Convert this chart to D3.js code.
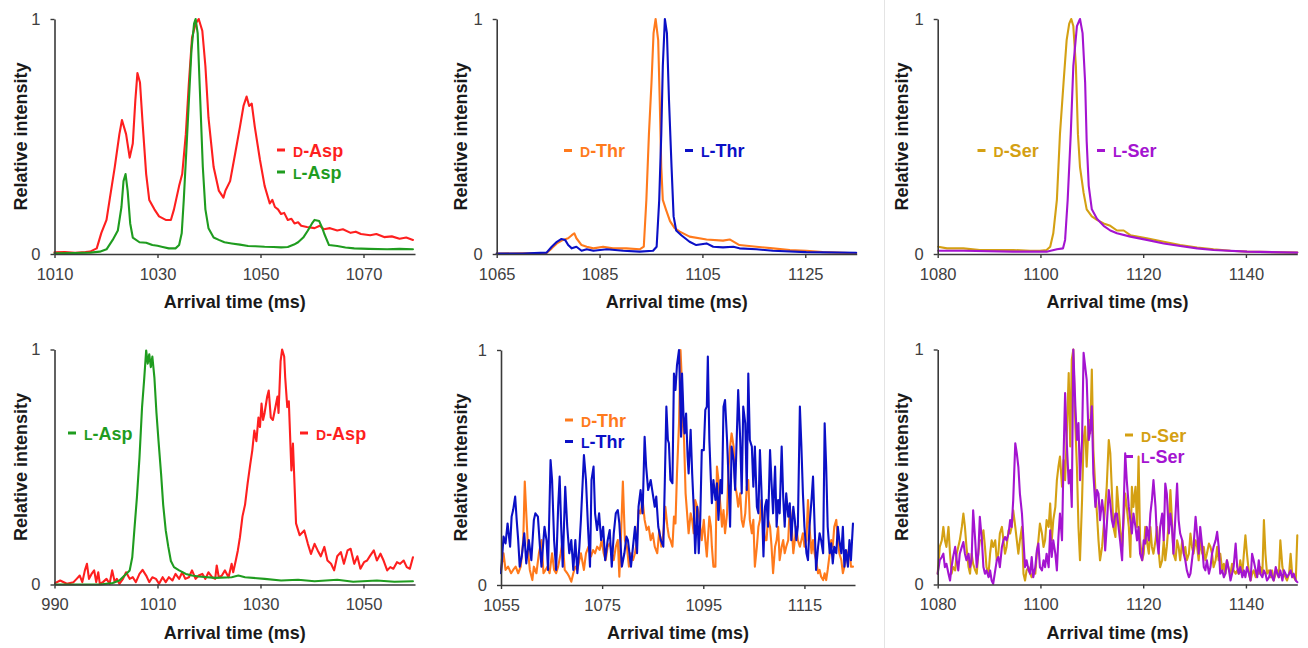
<!DOCTYPE html>
<html><head><meta charset="utf-8">
<script src="https://cdn.jsdelivr.net/npm/d3@7"></script>
<style>
html,body{margin:0;padding:0;background:#fff;}
svg{display:block;font-family:"Liberation Sans",Arial,sans-serif;}
</style></head>
<body>
<svg id="chart" width="1308" height="648"></svg>
<script>
// ---------------- DATA ----------------
// Top row: normal arrival-time distributions
const topAspD = [[1010.0,0.007],[1012,0.008],[1014,0.005],[1016,0.008],[1016.9,0.01],[1018.2,0.024],[1019.1,0.09],[1020.1,0.145],[1020.7,0.23],[1021.7,0.37],[1022.6,0.51],[1023.1,0.57],[1023.9,0.51],[1024.6,0.41],[1025.2,0.47],[1025.7,0.655],[1026.1,0.77],[1026.6,0.73],[1027.1,0.56],[1027.8,0.34],[1028.4,0.23],[1029.4,0.19],[1030.3,0.16],[1031.6,0.145],[1032.6,0.145],[1033.2,0.19],[1034.2,0.29],[1034.8,0.34],[1035.5,0.51],[1036.1,0.73],[1036.7,0.92],[1037.4,0.98],[1038.0,1.0],[1038.7,0.95],[1039.3,0.80],[1039.9,0.58],[1040.9,0.37],[1041.9,0.27],[1042.8,0.24],[1043.2,0.27],[1044.1,0.31],[1045.1,0.43],[1046.0,0.54],[1046.7,0.63],[1047.3,0.67],[1047.8,0.63],[1048.3,0.64],[1048.9,0.54],[1049.9,0.40],[1050.8,0.29],[1051.8,0.215],[1052.3,0.23],[1052.8,0.20],[1053.4,0.19],[1054.0,0.17],[1054.6,0.175],[1055.3,0.145],[1056.0,0.15],[1056.6,0.13],[1057.3,0.135],[1057.9,0.12],[1059.0,0.115],[1060.5,0.11],[1061.5,0.12],[1062.3,0.105],[1063.5,0.11],[1064.9,0.10],[1066.0,0.105],[1067.5,0.09],[1068.5,0.095],[1069.5,0.085],[1071.3,0.08],[1072.5,0.085],[1074.0,0.072],[1075.5,0.075],[1077.0,0.065],[1078.3,0.07],[1079.6,0.06]];
const topAspL = [[1010,0.003],[1014,0.004],[1017,0.006],[1018.8,0.01],[1020.1,0.02],[1021.3,0.06],[1022.3,0.10],[1023.0,0.20],[1023.4,0.31],[1023.8,0.34],[1024.2,0.27],[1024.7,0.13],[1025.2,0.07],[1026.5,0.05],[1027.8,0.048],[1029.0,0.038],[1030,0.035],[1031.0,0.03],[1032.2,0.024],[1033.5,0.024],[1034.2,0.038],[1034.7,0.088],[1035.1,0.23],[1035.6,0.44],[1036.1,0.655],[1036.6,0.87],[1037.1,0.98],[1037.4,1.0],[1037.8,0.94],[1038.3,0.655],[1038.8,0.37],[1039.3,0.19],[1039.9,0.11],[1040.9,0.07],[1041.9,0.06],[1043,0.05],[1044.4,0.045],[1046,0.04],[1047.6,0.034],[1049,0.033],[1050.8,0.031],[1052.5,0.03],[1054.0,0.028],[1055.3,0.03],[1056.5,0.04],[1057.3,0.05],[1058.3,0.07],[1059.2,0.10],[1060.0,0.13],[1060.5,0.145],[1061.4,0.14],[1062.0,0.11],[1062.4,0.085],[1063.3,0.038],[1064.9,0.034],[1066.5,0.028],[1068.2,0.024],[1071,0.022],[1074.6,0.02],[1077,0.022],[1079.6,0.02]];
const topThrD = [[1065,0.002],[1070,0.003],[1074.7,0.004],[1075.7,0.024],[1076.7,0.045],[1077.9,0.06],[1078.9,0.067],[1079.6,0.08],[1080.1,0.088],[1080.5,0.067],[1081.5,0.038],[1082.5,0.031],[1083.8,0.024],[1085.7,0.031],[1087.6,0.024],[1090.2,0.024],[1092.8,0.02],[1093.6,0.031],[1094.1,0.23],[1094.6,0.51],[1095.1,0.73],[1095.5,0.94],[1095.9,1.0],[1096.4,0.91],[1096.7,0.655],[1097.0,0.37],[1097.3,0.23],[1097.9,0.19],[1098.7,0.14],[1099.6,0.11],[1100.6,0.095],[1102.5,0.074],[1105.8,0.062],[1109.0,0.057],[1110.3,0.062],[1112.2,0.038],[1115.5,0.031],[1118.7,0.024],[1122.0,0.017],[1125.2,0.014],[1128.4,0.008],[1134.9,0.003]];
const topThrL = [[1065,0.002],[1070,0.002],[1074.7,0.006],[1075.7,0.031],[1076.7,0.052],[1077.6,0.064],[1078.3,0.06],[1078.9,0.038],[1079.6,0.024],[1080.5,0.031],[1081.5,0.014],[1082.5,0.02],[1083.8,0.014],[1086.4,0.02],[1089.6,0.014],[1092.8,0.01],[1095.4,0.014],[1096.1,0.031],[1096.6,0.23],[1097.0,0.51],[1097.3,0.80],[1097.7,1.0],[1098.1,0.94],[1098.5,0.655],[1099.0,0.37],[1099.4,0.16],[1099.9,0.10],[1100.9,0.08],[1102.5,0.052],[1103.8,0.038],[1105.8,0.045],[1107.1,0.031],[1109.0,0.028],[1111.0,0.031],[1112.2,0.024],[1115.5,0.02],[1118.7,0.014],[1125.2,0.008],[1134.9,0.005]];
const topSerD = [[1080.1,0.031],[1081.8,0.024],[1085.0,0.024],[1088.2,0.017],[1094.7,0.017],[1098.0,0.014],[1099.9,0.014],[1101.2,0.017],[1101.9,0.031],[1102.5,0.088],[1103.2,0.23],[1103.8,0.51],[1104.5,0.73],[1105.1,0.91],[1105.6,0.98],[1106.0,1.0],[1106.4,0.97],[1106.9,0.80],[1107.3,0.51],[1107.7,0.37],[1108.4,0.26],[1109.0,0.19],[1110.0,0.16],[1111.0,0.145],[1112.3,0.13],[1113.6,0.12],[1114.9,0.10],[1116.2,0.10],[1117.5,0.08],[1120.7,0.067],[1124.0,0.052],[1127.2,0.038],[1130.5,0.028],[1133.7,0.02],[1137.0,0.014],[1140.2,0.01],[1150.0,0.006]];
const topSerL = [[1080.1,0.014],[1085.0,0.014],[1094.7,0.01],[1101.2,0.01],[1103.2,0.02],[1104.4,0.024],[1104.8,0.06],[1105.3,0.23],[1105.9,0.51],[1106.4,0.80],[1107.1,0.97],[1107.7,1.0],[1108.2,0.94],[1108.7,0.73],[1109.0,0.48],[1109.4,0.29],[1110.0,0.19],[1111.0,0.15],[1112.3,0.12],[1113.6,0.10],[1114.9,0.088],[1117.5,0.074],[1120.7,0.06],[1124.0,0.045],[1127.2,0.034],[1130.5,0.024],[1133.7,0.017],[1140.2,0.01],[1150.0,0.006]];

// Bottom row
const botAspL = [[990.1,0.0],[995.6,0.0],[998.8,0.0],[1001.3,0.006],[1002.6,0.017],[1003.6,0.038],[1004.6,0.06],[1005.1,0.116],[1005.5,0.23],[1006.0,0.37],[1006.5,0.54],[1007.0,0.755],[1007.4,0.87],[1007.8,0.996],[1008.1,0.94],[1008.4,0.98],[1008.7,0.925],[1009.0,0.97],[1009.4,0.88],[1009.8,0.73],[1010.2,0.61],[1010.7,0.47],[1011.1,0.34],[1011.6,0.23],[1012.1,0.16],[1012.6,0.10],[1013.2,0.074],[1014.2,0.06],[1015.5,0.045],[1016.7,0.038],[1018.0,0.034],[1021.2,0.028],[1024.4,0.031],[1025.7,0.038],[1027.0,0.031],[1030.8,0.024],[1034.0,0.017],[1037.3,0.02],[1040.5,0.014],[1044.9,0.02],[1048,0.012],[1052.6,0.017],[1056,0.012],[1059.6,0.014]];
const botAspD = [[990.1,0.006],[991.1,0.017],[992.4,0.003],[993.7,0.01],[994.3,0.024],[994.9,0.038],[995.4,0.01],[995.9,0.06],[996.3,0.088],[996.7,0.024],[997.2,0.045],[997.7,0.06],[998.1,0.01],[998.5,0.052],[998.8,0.003],[999.4,0.01],[1000.1,0.024],[1000.7,0.003],[1001.2,0.06],[1001.7,0.01],[1002.1,0.024],[1002.6,0.003],[1003.3,0.024],[1003.9,0.052],[1004.6,0.024],[1005.2,0.031],[1005.8,0.01],[1006.5,0.045],[1007.1,0.062],[1007.8,0.038],[1008.4,0.01],[1009.0,0.031],[1009.7,0.024],[1010.3,0.003],[1011.0,0.031],[1011.6,0.01],[1012.2,0.031],[1012.9,0.017],[1013.5,0.045],[1014.2,0.024],[1014.8,0.052],[1015.4,0.024],[1016.1,0.031],[1016.7,0.06],[1017.4,0.024],[1018.0,0.038],[1018.7,0.045],[1019.3,0.024],[1019.9,0.052],[1020.6,0.031],[1021.2,0.024],[1021.5,0.081],[1021.9,0.031],[1022.5,0.038],[1023.1,0.06],[1023.8,0.031],[1024.4,0.088],[1024.7,0.052],[1025.2,0.102],[1025.6,0.145],[1026.0,0.20],[1026.5,0.29],[1027.0,0.34],[1027.5,0.43],[1028.0,0.51],[1028.4,0.57],[1028.8,0.655],[1029.2,0.61],[1029.6,0.71],[1029.9,0.67],[1030.2,0.77],[1030.5,0.70],[1030.8,0.73],[1031.3,0.80],[1031.6,0.825],[1032.0,0.71],[1032.4,0.70],[1032.9,0.755],[1033.3,0.80],[1033.5,0.73],[1033.9,0.95],[1034.2,1.0],[1034.6,0.97],[1034.8,0.88],[1035.2,0.755],[1035.5,0.78],[1036.0,0.485],[1036.3,0.60],[1036.9,0.26],[1037.6,0.21],[1038.5,0.23],[1039.2,0.173],[1039.8,0.13],[1040.5,0.173],[1041.1,0.145],[1041.7,0.12],[1042.4,0.16],[1043.0,0.102],[1043.7,0.088],[1044.3,0.06],[1044.9,0.12],[1045.6,0.138],[1046.2,0.088],[1046.9,0.145],[1047.5,0.152],[1048.2,0.088],[1048.8,0.12],[1049.4,0.067],[1050.1,0.095],[1050.7,0.102],[1051.3,0.123],[1052.0,0.145],[1052.6,0.102],[1053.3,0.131],[1053.9,0.102],[1054.6,0.06],[1055.2,0.074],[1055.8,0.067],[1056.5,0.095],[1057.1,0.088],[1057.8,0.102],[1058.4,0.074],[1059.0,0.067],[1059.6,0.116]];
const botThrD = [[1055.0,0.064],[1055.5,0.135],[1055.9,0.064],[1056.4,0.078],[1057.0,0.05],[1057.4,0.064],[1057.9,0.078],[1058.4,0.05],[1058.9,0.078],[1059.4,0.191],[1059.7,0.44],[1060.0,0.305],[1060.4,0.135],[1060.7,0.064],[1061.2,0.021],[1061.5,0.078],[1062.0,0.05],[1062.5,0.135],[1063.0,0.191],[1063.4,0.05],[1063.8,0.064],[1064.2,0.078],[1064.6,0.05],[1065.1,0.135],[1065.5,0.064],[1065.9,0.05],[1066.3,0.078],[1066.8,0.135],[1067.2,0.191],[1067.6,0.064],[1068.1,0.05],[1068.5,0.035],[1068.9,0.014],[1069.3,0.05],[1069.7,0.078],[1070.1,0.064],[1070.5,0.106],[1070.8,0.135],[1071.4,0.064],[1071.8,0.135],[1072.3,0.163],[1072.8,0.121],[1073.2,0.149],[1073.6,0.135],[1074.0,0.163],[1074.5,0.149],[1074.9,0.191],[1075.3,0.135],[1075.7,0.106],[1076.1,0.163],[1076.5,0.177],[1076.9,0.135],[1077.3,0.106],[1077.7,0.163],[1078.1,0.191],[1078.4,0.035],[1078.7,0.191],[1079.1,0.44],[1079.5,0.191],[1079.9,0.163],[1080.3,0.078],[1080.7,0.135],[1081.1,0.106],[1081.5,0.135],[1081.9,0.191],[1082.2,0.319],[1082.6,0.305],[1083.0,0.362],[1083.4,0.277],[1083.8,0.234],[1084.2,0.248],[1084.6,0.191],[1085.0,0.22],[1085.4,0.163],[1085.9,0.135],[1086.3,0.234],[1086.7,0.163],[1087.1,0.22],[1087.5,0.333],[1087.9,0.248],[1088.2,0.206],[1088.5,0.191],[1088.9,0.163],[1089.2,0.291],[1089.5,0.262],[1089.8,0.475],[1090.2,0.688],[1090.5,1.0],[1090.7,0.90],[1091.0,0.674],[1091.2,0.617],[1091.5,0.39],[1091.8,0.305],[1092.1,0.22],[1092.5,0.305],[1092.8,0.277],[1093.1,0.22],[1093.4,0.362],[1093.8,0.333],[1094.1,0.305],[1094.4,0.248],[1094.7,0.191],[1095.1,0.277],[1095.4,0.191],[1095.7,0.121],[1095.9,0.191],[1096.2,0.291],[1096.5,0.248],[1096.7,0.163],[1097.0,0.078],[1097.4,0.078],[1097.7,0.504],[1098.0,0.447],[1098.4,0.333],[1098.7,0.248],[1099.0,0.319],[1099.3,0.22],[1099.7,0.305],[1100.0,0.504],[1100.3,0.589],[1100.6,0.645],[1101.0,0.589],[1101.3,0.418],[1101.6,0.39],[1101.9,0.333],[1102.3,0.39],[1102.6,0.277],[1102.9,0.248],[1103.3,0.305],[1103.6,0.418],[1103.9,0.447],[1104.2,0.277],[1104.6,0.22],[1104.9,0.277],[1105.2,0.078],[1105.6,0.163],[1105.9,0.248],[1106.2,0.277],[1106.5,0.362],[1106.9,0.248],[1107.2,0.191],[1107.5,0.191],[1107.8,0.277],[1108.2,0.248],[1108.5,0.163],[1108.8,0.05],[1109.2,0.163],[1109.5,0.191],[1109.8,0.248],[1110.1,0.106],[1110.5,0.163],[1110.8,0.191],[1111.1,0.135],[1111.4,0.163],[1111.8,0.191],[1112.1,0.333],[1112.4,0.277],[1112.8,0.135],[1113.1,0.191],[1113.4,0.248],[1113.7,0.191],[1114.1,0.163],[1114.4,0.191],[1114.7,0.22],[1115.0,0.163],[1115.4,0.191],[1115.7,0.362],[1116.0,0.248],[1116.4,0.135],[1116.7,0.191],[1117.0,0.135],[1117.3,0.106],[1117.7,0.05],[1118.0,0.064],[1118.3,0.035],[1118.7,0.021],[1119.0,0.05],[1119.3,0.021],[1119.6,0.064],[1120.0,0.135],[1120.3,0.191],[1120.6,0.163],[1120.9,0.248],[1121.3,0.277],[1121.6,0.191],[1121.9,0.135],[1122.3,0.106],[1122.6,0.05],[1122.9,0.078],[1123.2,0.106],[1123.6,0.135],[1123.9,0.163],[1124.2,0.078],[1124.6,0.078]];
const botThrL = [[1055.0,0.05],[1055.5,0.206],[1055.9,0.177],[1056.3,0.262],[1056.8,0.163],[1057.1,0.291],[1057.4,0.319],[1057.8,0.376],[1058.1,0.277],[1058.4,0.191],[1058.7,0.078],[1059.1,0.121],[1059.6,0.22],[1060.0,0.092],[1060.5,0.191],[1061.0,0.106],[1061.5,0.277],[1061.8,0.305],[1062.3,0.291],[1062.7,0.163],[1063.0,0.078],[1063.3,0.163],[1063.6,0.248],[1064.0,0.191],[1064.3,0.064],[1064.8,0.532],[1065.1,0.447],[1065.5,0.191],[1065.9,0.064],[1066.3,0.333],[1066.6,0.461],[1066.9,0.248],[1067.2,0.078],[1067.7,0.418],[1068.1,0.248],[1068.5,0.135],[1068.9,0.191],[1069.3,0.064],[1069.7,0.191],[1070.1,0.05],[1070.5,0.163],[1070.8,0.277],[1071.4,0.553],[1071.8,0.447],[1072.2,0.248],[1072.6,0.078],[1072.9,0.447],[1073.3,0.504],[1073.6,0.305],[1074.0,0.234],[1074.4,0.305],[1074.8,0.191],[1075.2,0.248],[1075.6,0.106],[1076.1,0.191],[1076.5,0.234],[1076.9,0.078],[1077.3,0.22],[1077.7,0.305],[1078.1,0.319],[1078.4,0.262],[1078.9,0.078],[1079.4,0.135],[1079.8,0.206],[1080.1,0.191],[1080.7,0.078],[1081.1,0.163],[1081.5,0.248],[1081.9,0.135],[1082.2,0.333],[1082.6,0.404],[1083.0,0.305],[1083.4,0.631],[1083.7,0.504],[1084.1,0.404],[1084.6,0.447],[1084.9,0.404],[1085.4,0.333],[1085.7,0.376],[1086.1,0.248],[1086.6,0.191],[1087.1,0.163],[1087.4,0.447],[1087.7,0.759],[1088.0,0.617],[1088.2,0.603],[1088.5,0.447],[1088.9,0.433],[1089.2,0.90],[1089.5,0.83],[1089.8,0.936],[1090.2,1.0],[1090.4,0.83],[1090.6,0.631],[1090.8,0.90],[1091.1,0.716],[1091.3,0.645],[1091.6,0.73],[1091.9,0.546],[1092.1,0.475],[1092.5,0.66],[1092.8,0.475],[1093.1,0.333],[1093.4,0.135],[1093.8,0.333],[1094.1,0.135],[1094.4,0.277],[1094.7,0.574],[1095.1,0.574],[1095.4,0.745],[1095.7,0.759],[1095.9,0.972],[1096.2,0.617],[1096.5,0.447],[1096.7,0.348],[1097.0,0.447],[1097.4,0.362],[1097.7,0.433],[1098.0,0.277],[1098.4,0.447],[1098.7,0.39],[1099.0,0.759],[1099.3,0.787],[1099.7,0.617],[1100.0,0.447],[1100.3,0.248],[1100.6,0.589],[1101.0,0.532],[1101.3,0.404],[1101.6,0.617],[1101.9,0.83],[1102.3,0.617],[1102.6,0.39],[1102.9,0.759],[1103.3,0.688],[1103.6,0.404],[1103.9,0.90],[1104.2,0.617],[1104.6,0.589],[1104.9,0.418],[1105.2,0.589],[1105.6,0.333],[1105.9,0.305],[1106.2,0.574],[1106.5,0.404],[1106.9,0.121],[1107.2,0.333],[1107.5,0.362],[1107.8,0.248],[1108.2,0.574],[1108.5,0.433],[1108.8,0.305],[1109.2,0.504],[1109.5,0.248],[1109.8,0.362],[1110.1,0.305],[1110.5,0.589],[1110.8,0.376],[1111.1,0.248],[1111.4,0.39],[1111.8,0.291],[1112.1,0.348],[1112.4,0.191],[1112.8,0.333],[1113.1,0.277],[1113.4,0.191],[1113.7,0.248],[1114.1,0.759],[1114.4,0.589],[1114.7,0.39],[1115.0,0.248],[1115.4,0.135],[1115.7,0.106],[1116.0,0.248],[1116.4,0.362],[1116.7,0.461],[1117.0,0.262],[1117.3,0.064],[1117.7,0.163],[1118.0,0.22],[1118.3,0.191],[1118.7,0.135],[1119.0,0.688],[1119.3,0.504],[1119.6,0.248],[1120.0,0.135],[1120.3,0.177],[1120.6,0.092],[1120.9,0.163],[1121.3,0.135],[1121.6,0.248],[1121.9,0.191],[1122.3,0.135],[1122.6,0.248],[1122.9,0.078],[1123.2,0.149],[1123.6,0.078],[1123.9,0.191],[1124.2,0.106],[1124.6,0.262]];
const botSerD = [[1080.0,0.046],[1080.4,0.16],[1080.8,0.188],[1081.1,0.245],[1081.4,0.188],[1081.7,0.16],[1082.1,0.245],[1082.4,0.131],[1082.7,0.046],[1083.0,0.074],[1083.4,0.06],[1083.7,0.131],[1084.0,0.16],[1084.3,0.188],[1084.7,0.245],[1085.0,0.302],[1085.3,0.245],[1085.6,0.16],[1086.0,0.074],[1086.3,0.046],[1086.6,0.131],[1086.9,0.088],[1087.3,0.06],[1087.6,0.046],[1087.9,0.131],[1088.2,0.188],[1088.6,0.188],[1088.9,0.231],[1089.2,0.16],[1089.5,0.074],[1089.9,0.046],[1090.2,0.131],[1090.5,0.188],[1090.8,0.16],[1091.2,0.188],[1091.5,0.103],[1091.8,0.131],[1092.1,0.217],[1092.5,0.245],[1092.8,0.188],[1093.1,0.131],[1093.4,0.16],[1093.8,0.231],[1094.1,0.217],[1094.4,0.245],[1094.7,0.316],[1095.1,0.245],[1095.4,0.188],[1095.7,0.131],[1096.0,0.188],[1096.4,0.245],[1096.7,0.046],[1097.0,0.017],[1097.3,0.06],[1097.7,0.074],[1098.0,0.046],[1098.3,0.031],[1098.6,0.06],[1099.0,0.046],[1099.3,0.131],[1099.6,0.188],[1099.9,0.259],[1100.3,0.217],[1100.6,0.16],[1100.9,0.188],[1101.2,0.274],[1101.6,0.245],[1101.9,0.345],[1102.2,0.188],[1102.5,0.274],[1102.9,0.33],[1103.2,0.444],[1103.5,0.501],[1103.8,0.544],[1104.2,0.416],[1104.5,0.53],[1104.8,0.444],[1105.1,0.615],[1105.5,0.90],[1105.8,0.587],[1106.1,0.957],[1106.4,1.0],[1106.8,0.672],[1107.1,0.501],[1107.4,0.245],[1107.7,0.103],[1108.1,0.359],[1108.4,0.615],[1108.7,0.672],[1109.0,0.501],[1109.4,0.701],[1109.7,0.644],[1110.0,0.915],[1110.3,0.573],[1110.7,0.402],[1111.0,0.302],[1111.3,0.188],[1111.6,0.103],[1112.0,0.16],[1112.3,0.245],[1112.6,0.33],[1112.9,0.416],[1113.3,0.615],[1113.6,0.558],[1113.9,0.402],[1114.2,0.245],[1114.6,0.202],[1114.9,0.416],[1115.2,0.33],[1115.5,0.245],[1115.9,0.16],[1116.2,0.274],[1116.5,0.387],[1116.8,0.33],[1117.2,0.245],[1117.5,0.117],[1117.8,0.416],[1118.1,0.33],[1118.5,0.416],[1118.8,0.245],[1119.1,0.544],[1119.4,0.188],[1119.8,0.103],[1120.1,0.131],[1120.4,0.245],[1120.7,0.188],[1121.1,0.131],[1121.4,0.245],[1121.7,0.16],[1122.0,0.131],[1122.4,0.188],[1122.7,0.245],[1123.0,0.145],[1123.3,0.074],[1123.7,0.103],[1124.0,0.188],[1124.3,0.103],[1124.6,0.16],[1125.0,0.274],[1125.3,0.402],[1125.6,0.274],[1125.9,0.131],[1126.3,0.103],[1126.6,0.188],[1126.9,0.16],[1127.2,0.103],[1127.6,0.188],[1127.9,0.131],[1128.2,0.16],[1128.5,0.103],[1128.9,0.131],[1129.2,0.217],[1129.5,0.16],[1129.8,0.131],[1130.2,0.188],[1130.5,0.16],[1130.8,0.103],[1131.1,0.188],[1131.5,0.131],[1131.8,0.16],[1132.1,0.103],[1132.4,0.131],[1132.8,0.174],[1133.1,0.16],[1133.4,0.131],[1133.7,0.074],[1134.1,0.103],[1134.4,0.16],[1134.7,0.103],[1135.0,0.131],[1135.4,0.06],[1135.7,0.088],[1136.0,0.046],[1136.3,0.103],[1136.7,0.06],[1137.0,0.046],[1137.3,0.088],[1137.6,0.06],[1138.0,0.046],[1138.3,0.06],[1138.6,0.046],[1138.9,0.103],[1139.3,0.046],[1139.6,0.131],[1139.9,0.209],[1140.2,0.131],[1140.6,0.046],[1140.9,0.017],[1141.2,0.046],[1141.5,0.06],[1141.9,0.031],[1142.2,0.06],[1142.5,0.046],[1142.8,0.074],[1143.2,0.046],[1143.5,0.274],[1143.8,0.131],[1144.1,0.046],[1144.5,0.06],[1144.8,0.031],[1145.1,0.06],[1145.4,0.017],[1145.8,0.046],[1146.1,0.06],[1146.4,0.031],[1146.7,0.188],[1147.1,0.074],[1147.4,0.046],[1147.7,0.031],[1148.0,0.017],[1148.4,0.046],[1148.7,0.131],[1149.0,0.046],[1149.3,0.031],[1149.7,0.017],[1150.0,0.209]];
const botSerL = [[1080.0,0.046],[1080.4,0.103],[1080.8,0.117],[1081.1,0.131],[1081.4,0.074],[1081.7,0.088],[1082.1,0.046],[1082.4,0.017],[1082.7,0.074],[1083.0,0.117],[1083.4,0.16],[1083.7,0.103],[1084.0,0.06],[1084.3,0.131],[1084.7,0.16],[1085.0,0.181],[1085.3,0.131],[1085.6,0.103],[1086.0,0.131],[1086.3,0.074],[1086.6,0.103],[1086.9,0.316],[1087.3,0.188],[1087.6,0.074],[1087.9,0.131],[1088.2,0.288],[1088.6,0.188],[1088.9,0.074],[1089.2,0.046],[1089.5,0.06],[1089.9,0.031],[1090.2,0.06],[1090.5,0.017],[1090.8,0.003],[1091.2,0.06],[1091.5,0.103],[1091.8,0.117],[1092.1,0.074],[1092.5,0.16],[1092.8,0.188],[1093.1,0.202],[1093.4,0.188],[1093.8,0.217],[1094.1,0.274],[1094.4,0.245],[1094.7,0.359],[1095.1,0.601],[1095.4,0.558],[1095.7,0.501],[1096.0,0.387],[1096.4,0.302],[1096.7,0.188],[1097.0,0.074],[1097.3,0.103],[1097.7,0.06],[1098.0,0.046],[1098.3,0.117],[1098.6,0.031],[1099.0,0.074],[1099.3,0.145],[1099.6,0.174],[1099.9,0.074],[1100.3,0.06],[1100.6,0.103],[1100.9,0.074],[1101.2,0.131],[1101.6,0.074],[1101.9,0.231],[1102.2,0.117],[1102.5,0.188],[1102.9,0.131],[1103.2,0.06],[1103.5,0.202],[1103.8,0.302],[1104.2,0.188],[1104.5,0.544],[1104.8,0.815],[1105.1,0.615],[1105.5,0.43],[1105.8,0.487],[1106.1,0.33],[1106.4,1.0],[1106.8,0.758],[1107.1,0.615],[1107.4,0.687],[1107.7,0.444],[1108.1,0.615],[1108.4,0.986],[1108.7,0.929],[1109.0,0.872],[1109.4,0.615],[1109.7,0.658],[1110.0,0.758],[1110.3,0.473],[1110.7,0.33],[1111.0,0.402],[1111.3,0.387],[1111.6,0.274],[1112.0,0.359],[1112.3,0.302],[1112.6,0.145],[1112.9,0.245],[1113.3,0.402],[1113.6,0.345],[1113.9,0.274],[1114.2,0.245],[1114.6,0.302],[1114.9,0.302],[1115.2,0.245],[1115.5,0.188],[1115.9,0.103],[1116.2,0.33],[1116.5,0.558],[1116.8,0.444],[1117.2,0.33],[1117.5,0.274],[1117.8,0.217],[1118.1,0.302],[1118.5,0.245],[1118.8,0.188],[1119.1,0.245],[1119.4,0.131],[1119.8,0.103],[1120.1,0.188],[1120.4,0.174],[1120.7,0.245],[1121.1,0.188],[1121.4,0.302],[1121.7,0.359],[1122.0,0.444],[1122.4,0.33],[1122.7,0.188],[1123.0,0.131],[1123.3,0.245],[1123.7,0.302],[1124.0,0.188],[1124.3,0.43],[1124.6,0.387],[1125.0,0.217],[1125.3,0.302],[1125.6,0.245],[1125.9,0.131],[1126.3,0.302],[1126.6,0.43],[1126.9,0.274],[1127.2,0.217],[1127.6,0.188],[1127.9,0.131],[1128.2,0.103],[1128.5,0.06],[1128.9,0.031],[1129.2,0.046],[1129.5,0.103],[1129.8,0.16],[1130.2,0.288],[1130.5,0.217],[1130.8,0.131],[1131.1,0.245],[1131.5,0.16],[1131.8,0.074],[1132.1,0.06],[1132.4,0.103],[1132.8,0.046],[1133.1,0.074],[1133.4,0.131],[1133.7,0.16],[1134.1,0.188],[1134.4,0.224],[1134.7,0.16],[1135.0,0.046],[1135.4,0.06],[1135.7,0.031],[1136.0,0.046],[1136.3,0.103],[1136.7,0.06],[1137.0,0.017],[1137.3,0.046],[1137.6,0.074],[1138.0,0.174],[1138.3,0.074],[1138.6,0.046],[1138.9,0.074],[1139.3,0.031],[1139.6,0.06],[1139.9,0.031],[1140.2,0.074],[1140.6,0.046],[1140.9,0.017],[1141.2,0.131],[1141.5,0.103],[1141.9,0.06],[1142.2,0.031],[1142.5,0.103],[1142.8,0.046],[1143.2,0.031],[1143.5,0.06],[1143.8,0.046],[1144.1,0.017],[1144.5,0.031],[1144.8,0.06],[1145.1,0.031],[1145.4,0.017],[1145.8,0.074],[1146.1,0.046],[1146.4,0.031],[1146.7,0.06],[1147.1,0.017],[1147.4,0.06],[1147.7,0.046],[1148.0,0.031],[1148.4,0.046],[1148.7,0.06],[1149.0,0.031],[1149.3,0.046],[1149.7,0.017],[1150.0,0.01]];

// axis domains and tick labels
const xDomains = [[1010,1080],[1065,1135],[1080,1150],[990,1060],[1055,1125],[1080,1150]];
const xTicks = [[1010,1030,1050,1070],[1065,1085,1105,1125],[1080,1100,1120,1140],[990,1010,1030,1050],[1055,1075,1095,1115],[1080,1100,1120,1140]];
const yTicks = [0,1];
const xTitle = "Arrival time (ms)";
const yTitle = "Relative intensity";

// series names: [small-cap prefix, rest]
const names = {dAsp:["D","-Asp"], lAsp:["L","-Asp"], dThr:["D","-Thr"], lThr:["L","-Thr"], dSer:["D","-Ser"], lSer:["L","-Ser"]};
const colors = {dAsp:"#fe1f1f", lAsp:"#1f9c1f", dThr:"#ff7a1c", lThr:"#0b10c6", dSer:"#d4a013", lSer:"#a414d0"};

// ---------------- LAYOUT ----------------
const panels = [
  {box:[54.5,19,415,254], ytx:20, series:[["dAsp",topAspD],["lAsp",topAspL]], legend:[["dAsp",277,150],["lAsp",277,172]]},
  {box:[496.7,19,856.7,254], ytx:460, series:[["dThr",topThrD],["lThr",topThrL]], legend:[["dThr",564,150.5],["lThr",685,150.5]]},
  {box:[937.7,19,1297.3,254], ytx:901.5, series:[["dSer",topSerD],["lSer",topSerL]], legend:[["dSer",977.5,150.5],["lSer",1097,150.5]]},
  {box:[54.5,349.5,415,584.5], ytx:20, series:[["dAsp",botAspD],["lAsp",botAspL]], legend:[["lAsp",68,433],["dAsp",300,433]]},
  {box:[501,350,855,585], ytx:460, series:[["dThr",botThrD],["lThr",botThrL]], legend:[["dThr",565,420],["lThr",565,441.5]]},
  {box:[937.7,349.5,1297.3,584.5], ytx:901.5, series:[["dSer",botSerD],["lSer",botSerL]], legend:[["dSer",1125,435],["lSer",1125,456.5]]}
];

const svg = d3.select("#chart");
svg.append("rect").attr("width",1308).attr("height",648).attr("fill","#fff");
svg.append("line").attr("x1",884.5).attr("x2",884.5).attr("y1",0).attr("y2",648)
   .attr("stroke","#e4e4e4").attr("stroke-width",1);

const axisColor = "#3a3a3a";

panels.forEach((p,i) => {
  const [x0,y0,x1,y1] = p.box;
  const x = d3.scaleLinear().domain(xDomains[i]).range([x0,x1]);
  const y = d3.scaleLinear().domain([0,1]).range([y1,y0]);
  const g = svg.append("g");

  // lines
  const line = d3.line().x(d=>x(d[0])).y(d=>y(d[1]));
  p.series.forEach(([key,data]) => {
    g.append("path").datum(data).attr("d",line).attr("fill","none")
      .attr("stroke",colors[key]).attr("stroke-width",2.1)
      .attr("stroke-linejoin","round").attr("stroke-linecap","round");
  });

  // axes
  const xa = g.append("g").attr("transform",`translate(0,${y1})`)
    .call(d3.axisBottom(x).tickValues(xTicks[i]).tickFormat(d3.format("d")).tickSize(4).tickSizeOuter(0).tickPadding(10));
  const ya = g.append("g").attr("transform",`translate(${x0},0)`)
    .call(d3.axisLeft(y).tickValues(yTicks).tickFormat(d3.format("d")).tickSize(4).tickSizeOuter(0).tickPadding(10));
  [xa,ya].forEach(a => {
    a.select(".domain").attr("stroke",axisColor).attr("stroke-width",1.6);
    a.selectAll(".tick line").attr("stroke",axisColor).attr("stroke-width",1.4);
    a.selectAll(".tick text").attr("fill","#404040").attr("font-size",16.5)
      .attr("font-family","'Liberation Sans',Arial,sans-serif");
  });

  // axis titles
  g.append("text").attr("x",(x0+x1)/2).attr("y",y1+54).attr("text-anchor","middle")
    .attr("font-size",18).attr("font-weight","bold").attr("fill","#1a1a1a").text(xTitle);
  g.append("text").attr("transform",`translate(${p.ytx+6.5},${(y0+y1)/2}) rotate(-90)`)
    .attr("text-anchor","middle").attr("font-size",18).attr("font-weight","bold").attr("fill","#1a1a1a").text(yTitle);

  // legends
  p.legend.forEach(([key,lx,ly]) => {
    g.append("line").attr("x1",lx).attr("x2",lx+8).attr("y1",ly).attr("y2",ly)
      .attr("stroke",colors[key]).attr("stroke-width",3);
    const t = g.append("text").attr("x",lx+16).attr("y",ly+6.5)
      .attr("font-size",18).attr("font-weight","bold").attr("fill",colors[key]);
    t.append("tspan").attr("font-size",14).text(names[key][0]);
    t.append("tspan").text(names[key][1]);
  });
});
</script>
</body></html>
